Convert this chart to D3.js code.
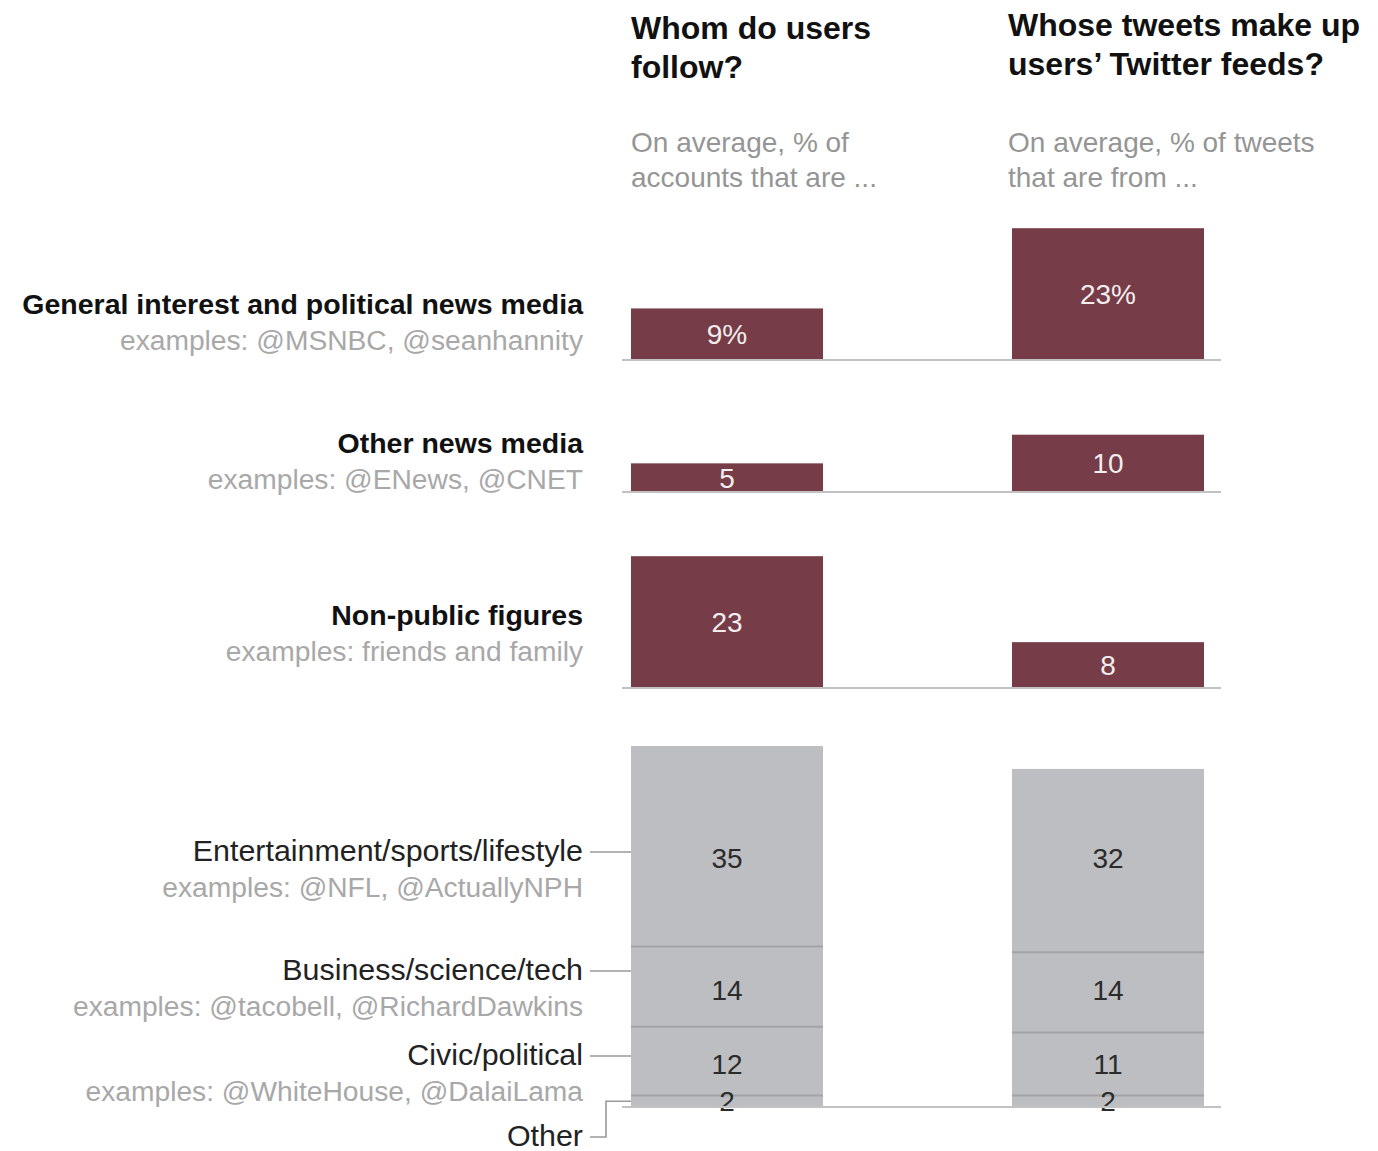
<!DOCTYPE html>
<html>
<head>
<meta charset="utf-8">
<script src="https://cdn.jsdelivr.net/npm/d3@7"></script>
<style>
  html, body { margin: 0; padding: 0; background: #fff; }
  svg { display: block; font-family: "Liberation Sans", Arial, sans-serif; }
</style>
</head>
<body>
<svg id="chart" width="1378" height="1151"></svg>
<script>
// Column headings
const columnKeys = ["follow", "feed"];
const titleLines = [["Whom do users", "follow?"], ["Whose tweets make up", "users’ Twitter feeds?"]];
const subtitleLines = [["On average, % of", "accounts that are ..."], ["On average, % of tweets", "that are from ..."]];

// News-related account types (separate bars)
const newsCategories = ["General interest and political news media", "Other news media", "Non-public figures"];
const newsExamples = ["examples: @MSNBC, @seanhannity", "examples: @ENews, @CNET", "examples: friends and family"];
const newsFollow = [9, 5, 23];
const newsFeed = [23, 10, 8];

// Other account types (stacked bar, listed top to bottom)
const stackCategories = ["Entertainment/sports/lifestyle", "Business/science/tech", "Civic/political", "Other"];
const stackExamples = ["examples: @NFL, @ActuallyNPH", "examples: @tacobell, @RichardDawkins", "examples: @WhiteHouse, @DalaiLama", ""];
const stackFollow = [35, 14, 12, 2];
const stackFeed = [32, 14, 11, 2];

const svg = d3.select("#chart");

const MAROON = "#763c48";
const GREY = "#bdbec1";
const DIVIDER = "#a2a3a6";
const AXIS = "#c2c2c2";

// horizontal placement of the two columns
const x = d3.scaleBand().domain(columnKeys).range([631, 1204]).paddingInner(0.496).paddingOuter(0);
// bar height per percentage point
const h = d3.scaleLinear().domain([0, 63]).range([0, 361]);

const lineX0 = 622, lineX1 = 1221;
const labelRight = 583;

// ---- headings
const titleX = { follow: 631, feed: 1008 };
const titleY = { follow: [39, 78], feed: [36, 75] };
columnKeys.forEach((k, i) => {
  const t = svg.append("text")
    .attr("font-size", 32).attr("font-weight", "bold").attr("fill", "#111");
  titleLines[i].forEach((line, j) => {
    t.append("tspan").attr("x", titleX[k]).attr("y", titleY[k][j]).text(line);
  });
  const s = svg.append("text")
    .attr("font-size", 28).attr("fill", "#959595");
  subtitleLines[i].forEach((line, j) => {
    s.append("tspan").attr("x", titleX[k]).attr("y", 152 + j * 35).text(line);
  });
});

// ---- news rows
const newsBase = [360, 492, 688];
const newsLabelY = [314, 453, 625];
const newsRows = newsCategories.map((c, i) => ({
  cat: c, ex: newsExamples[i], base: newsBase[i], labelY: newsLabelY[i],
  vals: [{ k: "follow", v: newsFollow[i] }, { k: "feed", v: newsFeed[i] }],
  first: i === 0
}));

const rowG = svg.selectAll("g.news").data(newsRows).join("g").attr("class", "news");

rowG.append("text")
  .attr("x", labelRight).attr("y", d => d.labelY)
  .attr("text-anchor", "end").attr("font-size", 28.5).attr("font-weight", "bold").attr("fill", "#111")
  .text(d => d.cat);
rowG.append("text")
  .attr("x", labelRight).attr("y", d => d.labelY + 36)
  .attr("text-anchor", "end").attr("font-size", 28.2).attr("fill", "#a8a8a8")
  .text(d => d.ex);

rowG.selectAll("rect").data(d => d.vals.map(v => ({ ...v, base: d.base, first: d.first })))
  .join("rect")
  .attr("x", d => x(d.k)).attr("width", x.bandwidth())
  .attr("y", d => d.base - h(d.v)).attr("height", d => h(d.v))
  .attr("fill", MAROON);

rowG.selectAll("text.val").data(d => d.vals.map(v => ({ ...v, base: d.base, first: d.first })))
  .join("text").attr("class", "val")
  .attr("x", d => x(d.k) + x.bandwidth() / 2)
  .attr("y", d => d.base - h(d.v) / 2)
  .attr("dy", "0.36em")
  .attr("text-anchor", "middle").attr("font-size", 28).attr("fill", "#f3eeee")
  .text(d => d.v + (d.first ? "%" : ""));

rowG.append("line")
  .attr("x1", lineX0).attr("x2", lineX1)
  .attr("y1", d => d.base).attr("y2", d => d.base)
  .attr("stroke", AXIS).attr("stroke-width", 2);

// ---- stacked bar of remaining account types, stacked from the bottom (last item first)
const stackBase = 1107;
const stackSeries = [{ k: "follow", vals: stackFollow }, { k: "feed", vals: stackFeed }];
const segs = [];
stackSeries.forEach(s => {
  let cum = 0;
  for (let i = s.vals.length - 1; i >= 0; i--) {
    const v = s.vals[i];
    segs.push({ k: s.k, i, v, y0: cum, y1: cum + v });
    cum += v;
  }
});

const stackG = svg.append("g");
stackG.selectAll("rect").data(segs).join("rect")
  .attr("x", d => x(d.k)).attr("width", x.bandwidth())
  .attr("y", d => stackBase - h(d.y1)).attr("height", d => h(d.v))
  .attr("fill", GREY);

// dividers between segments
stackG.selectAll("line.div").data(segs.filter(d => d.y0 > 0)).join("line").attr("class", "div")
  .attr("x1", d => x(d.k)).attr("x2", d => x(d.k) + x.bandwidth())
  .attr("y1", d => stackBase - h(d.y0)).attr("y2", d => stackBase - h(d.y0))
  .attr("stroke", DIVIDER).attr("stroke-width", 2);

// value labels share a row across both columns: middle of the overlapping span
function rowMid(i) {
  const a = segs.filter(d => d.i === i);
  const top = Math.max(...a.map(d => stackBase - h(d.y1)));
  const bot = Math.min(...a.map(d => stackBase - h(d.y0)));
  return (top + bot) / 2;
}
stackG.selectAll("text.val").data(segs).join("text").attr("class", "val")
  .attr("x", d => x(d.k) + x.bandwidth() / 2)
  .attr("y", d => rowMid(d.i))
  .attr("dy", "0.36em")
  .attr("text-anchor", "middle").attr("font-size", 28).attr("fill", "#2b2b2b")
  .text(d => d.v);

stackG.append("line")
  .attr("x1", lineX0).attr("x2", lineX1)
  .attr("y1", stackBase).attr("y2", stackBase)
  .attr("stroke", AXIS).attr("stroke-width", 2);

// category labels with leader lines
const stackLabelY = [861, 980, 1065, 1146];
const lab = svg.selectAll("g.stacklab").data(stackCategories).join("g").attr("class", "stacklab");
lab.append("text")
  .attr("x", labelRight).attr("y", (d, i) => stackLabelY[i])
  .attr("text-anchor", "end").attr("font-size", 30.4).attr("fill", "#222")
  .text(d => d);
lab.append("text")
  .attr("x", labelRight).attr("y", (d, i) => stackLabelY[i] + 36)
  .attr("text-anchor", "end").attr("font-size", 28.2).attr("fill", "#a8a8a8")
  .text((d, i) => stackExamples[i]);

const barLeft = x("follow");
const last = stackCategories.length - 1;
const otherSeg = segs.find(d => d.k === "follow" && d.i === last);
const otherMid = stackBase - h((otherSeg.y0 + otherSeg.y1) / 2);
lab.append("path")
  .attr("d", (d, i) => {
    const ly = stackLabelY[i] - 9;
    if (i < last) return `M590,${ly}H${barLeft}`;
    return `M590,${ly}H606V${otherMid}H${barLeft}`;
  })
  .attr("fill", "none").attr("stroke", "#999").attr("stroke-width", 1.6);
</script>
</body>
</html>
